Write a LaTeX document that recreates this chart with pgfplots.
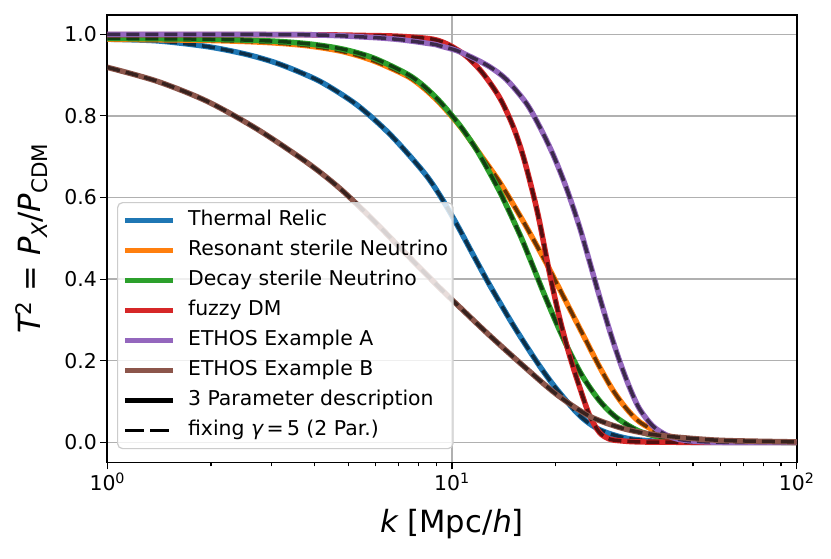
\documentclass[border=0pt]{standalone}
\usepackage{fontspec}
\setmainfont{DejaVu Sans}
\usepackage{pgfplots}
\usepackage{pgfplotstable}
\pgfplotsset{compat=1.18}
\definecolor{tabblue}{RGB}{31,119,180}
\definecolor{taborange}{RGB}{255,127,14}
\definecolor{tabgreen}{RGB}{44,160,44}
\definecolor{tabred}{RGB}{214,39,40}
\definecolor{tabpurple}{RGB}{148,103,189}
\definecolor{tabbrown}{RGB}{140,86,75}
\definecolor{gridgray}{RGB}{176,176,176}
\definecolor{legendgray}{RGB}{204,204,204}

\pgfplotstableread{
k T
1 0.988
1.393 0.984
1.945 0.970
2.50 0.952
3.034 0.932
3.597 0.908
4.236 0.880
5.297 0.827
6.607 0.755
8.260 0.663
9.226 0.605
10.33 0.534
11.51 0.460
12.85 0.386
14.69 0.302
16.07 0.249
17.99 0.186
20.09 0.131
23.44 0.066
26.79 0.031
32.06 0.010
39.99 0.002
52.24 0.0
100 0.0
}\thermal

\pgfplotstableread{
k T
1 0.988
1.945 0.985
2.897 0.980
3.793 0.972
4.797 0.958
5.916 0.935
7.396 0.898
8.260 0.869
9.226 0.831
10.33 0.784
11.02 0.753
12.02 0.708
13.74 0.638
15.70 0.557
16.79 0.514
18.78 0.439
20.51 0.376
22.42 0.312
24.52 0.248
26.79 0.185
29.29 0.128
32.03 0.083
34.99 0.050
39.99 0.023
45.71 0.010
59.70 0.003
100 0.0
}\resonant

\pgfplotstableread{
k T
1 0.990
1.945 0.988
2.897 0.984
3.793 0.977
4.797 0.964
5.916 0.942
7.396 0.903
8.260 0.874
9.226 0.835
10.33 0.786
11.02 0.754
12.02 0.705
13.74 0.615
15.70 0.511
16.79 0.452
18.37 0.370
20.07 0.293
21.93 0.222
23.99 0.160
26.79 0.102
29.97 0.061
34.99 0.027
41.78 0.010
52.24 0.002
100 0.0
}\decay

\pgfplotstableread{
k T
1 0.999
3.62 0.999
5.65 0.997
7.05 0.995
8.79 0.988
9.84 0.973
11.02 0.946
12.30 0.904
13.74 0.845
15.03 0.775
16.07 0.703
17.18 0.610
17.95 0.540
19.19 0.415
20.51 0.305
21.93 0.213
23.44 0.136
25.06 0.066
26.79 0.024
28.64 0.008
30.62 0.004
34.99 0.001
50.12 0.0
100 0.0
}\fuzzy

\pgfplotstableread{
k T
1 1.0
3.62 0.999
5.65 0.993
7.05 0.987
8.79 0.976
9.20 0.972
10.33 0.960
11.51 0.942
12.88 0.920
14.39 0.889
16.43 0.831
17.95 0.774
19.63 0.706
21.46 0.624
23.44 0.528
25.06 0.443
26.79 0.357
28.64 0.275
30.62 0.200
32.73 0.135
34.99 0.082
38.24 0.040
41.82 0.018
45.71 0.007
52.24 0.002
63.1 0.0
100 0.0
}\ethosA

\pgfplotstableread{
k T
1 0.919
1.393 0.885
1.945 0.836
2.716 0.768
3.793 0.686
4.732 0.622
5.916 0.544
7.396 0.460
9.226 0.378
10.33 0.338
12.85 0.262
16.07 0.188
20.07 0.118
25.06 0.064
31.33 0.034
39.13 0.018
52.24 0.008
64.27 0.004
100 0.001
}\ethosB

\pgfplotsset{
  col/.style={#1, line width=5.5pt, smooth, tension=0.5},
  dsh/.style={black, draw opacity=0.6, line width=3.5pt, dash pattern=on 13pt off 6pt, smooth, tension=0.5, forget plot},
}

\begin{document}
\begin{tikzpicture}
\path[use as bounding box, fill=white] (-107.3pt,-95.7pt) rectangle (723.7pt,462.3pt);
\begin{axis}[
  at={(0,0)}, anchor=south west,
  scale only axis, width=689.4pt, height=447.6pt,
  xmode=log, xmin=1, xmax=100, ymin=-0.049, ymax=1.048,
  xtick={1,10,100},
  xticklabels={10\textsuperscript{0},10\textsuperscript{1},10\textsuperscript{2}},
  ytick={0,0.2,0.4,0.6,0.8,1.0},
  yticklabels={0.0,0.2,0.4,0.6,0.8,1.0},
  tick align=outside, tick pos=left,
  major tick length=7pt, minor tick length=4pt,
  tick style={black, line width=1.2pt},
  axis line style={line width=1.6pt},
  xmajorgrids, ymajorgrids,
  grid style={line width=1.3pt, color=gridgray},
  tick label style={font=\fontsize{20.4}{24}\selectfont},
  label style={font=\fontsize{30.6}{36}\selectfont},
  xlabel={{\itshape k} [Mpc/{\itshape h}]},
  ylabel={{\itshape T}\textsuperscript{2} = {\itshape P}\textsubscript{\itshape X}/{\itshape P}\textsubscript{CDM}},
  xlabel style={at={(axis description cs:0.5,-0.1385)}, anchor=center},
  ylabel style={at={(axis description cs:-0.110,0.5)}, anchor=center},
  legend cell align=left,
  legend image code/.code={\draw[#1] (0pt,0pt) -- (48pt,0pt);},
  legend style={at={(axis description cs:0.0141,0.5815)}, anchor=north west,
    draw=legendgray, line width=1.2pt, rounded corners=5pt,
    fill=white, fill opacity=0.8, draw opacity=1, text opacity=1,
    inner xsep=5pt, inner ysep=8pt, row sep=10pt,
    font=\fontsize{20.4}{24}\selectfont,
    nodes={inner xsep=0pt, inner ysep=0pt, text height=15pt, text depth=5pt},
    /tikz/every odd column/.append style={column sep=12pt}},
]
\addplot[col=tabblue] table[x=k,y=T]{\thermal};
\addlegendentry{Thermal Relic}
\addplot[dsh] table[x=k,y=T]{\thermal};
\addplot[col=taborange] table[x=k,y=T]{\resonant};
\addlegendentry{Resonant sterile Neutrino}
\addplot[dsh] table[x=k,y=T]{\resonant};
\addplot[col=tabgreen] table[x=k,y=T]{\decay};
\addlegendentry{Decay sterile Neutrino}
\addplot[dsh] table[x=k,y=T]{\decay};
\addplot[col=tabred] table[x=k,y=T]{\fuzzy};
\addlegendentry{fuzzy DM}
\addplot[dsh] table[x=k,y=T]{\fuzzy};
\addplot[col=tabpurple] table[x=k,y=T]{\ethosA};
\addlegendentry{ETHOS Example A}
\addplot[dsh] table[x=k,y=T]{\ethosA};
\addplot[col=tabbrown] table[x=k,y=T]{\ethosB};
\addlegendentry{ETHOS Example B}
\addplot[dsh] table[x=k,y=T]{\ethosB};
\addlegendimage{black, line width=5.5pt}
\addlegendentry{3 Parameter description}
\addlegendimage{black, line width=3.5pt, dash pattern=on 19pt off 6pt}
\addlegendentry{fixing {\itshape γ}\,=\,5 (2 Par.)}
\end{axis}
\end{tikzpicture}
\end{document}
